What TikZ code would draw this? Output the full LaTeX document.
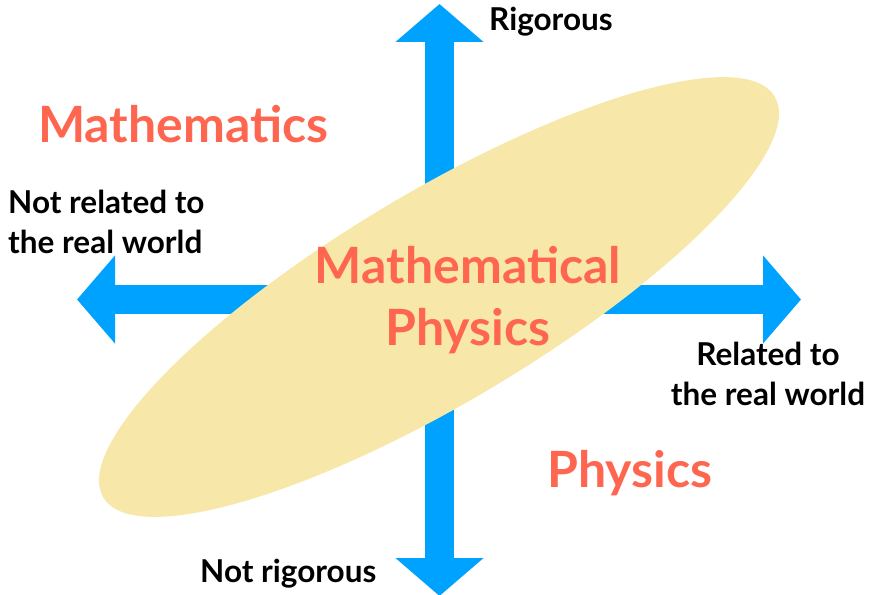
\documentclass[tikz,border=0pt]{standalone}
\usepackage{fontspec}
\setmainfont{Lato}
\usetikzlibrary{arrows.meta}
\definecolor{axisblue}{RGB}{0,162,255}
\definecolor{coral}{RGB}{255,102,80}
\definecolor{sand}{RGB}{247,231,168}
\begin{document}
\begin{tikzpicture}[x=1pt,y=-1pt,
  axis/.style={draw=axisblue,line width=29pt,
    {Triangle[length=38pt,width=86pt]}-{Triangle[length=38pt,width=86pt]}},
  lbl/.style={inner sep=0pt,font=\fontsize{31.5}{40}\selectfont\bfseries,text=black},
  big/.style={inner sep=0pt,font=\fontsize{50}{62}\selectfont\bfseries,text=coral}]
\useasboundingbox (0,0) rectangle (882,594);
\coordinate (top) at (439.5,4);
\coordinate (bottom) at (439.5,596);
\coordinate (left) at (77,299.5);
\coordinate (right) at (801,299.5);
\coordinate (c) at (439,297);
\draw[axis] (bottom) -- (top);
\draw[axis] (left) -- (right);
\fill[sand,rotate around={30.85:(c)}] (c) ellipse [x radius=391, y radius=105];
\node[lbl,anchor=base west] (rig) at (489,31) {Rigorous};
\node[lbl,anchor=base west] (nrig) at (200,582) {Not rigorous};
\node[lbl,anchor=base west,align=left] (nrel) at (8,253) {Not related to\\the real world};
\node[lbl,anchor=base,align=center] (rel) at (768,405) {Related to\\the real world};
\node[big,anchor=base west] (math) at (38,142) {Mathematics};
\node[big,anchor=base west] (phys) at (547,487) {Physics};
\node[big,anchor=base,align=center] (mp) at (468,345) {Mathematical\\Physics};
\end{tikzpicture}
\end{document}
